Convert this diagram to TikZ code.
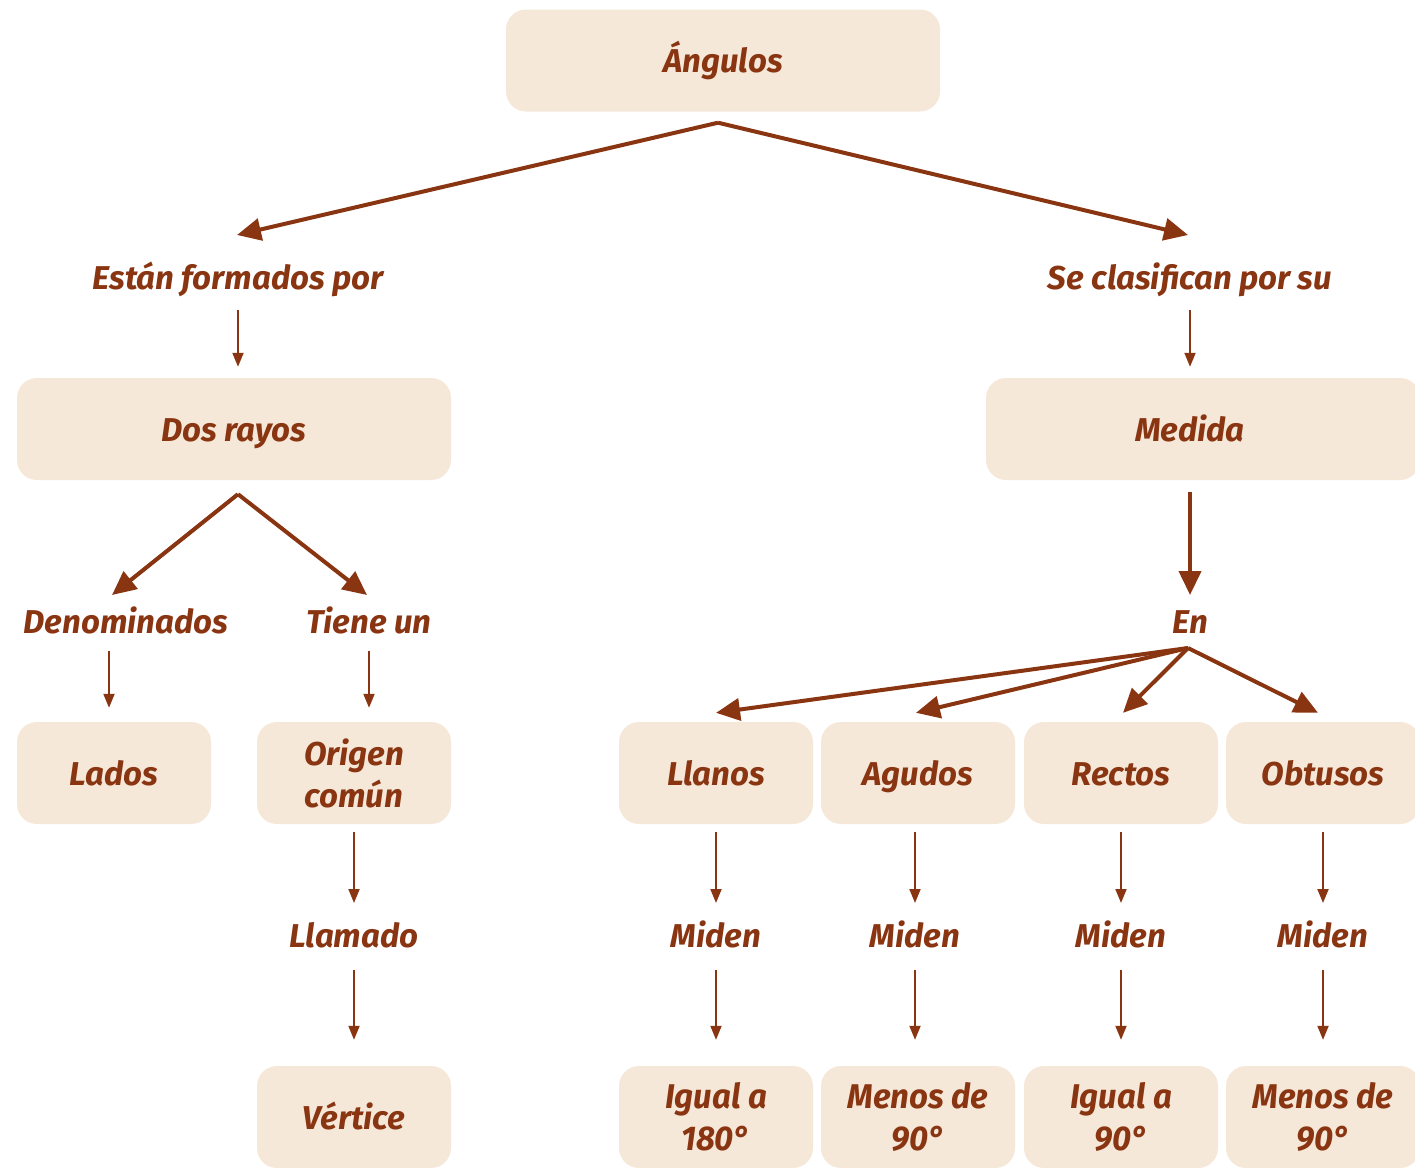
\documentclass[tikz,border=0pt]{standalone}
\usepackage{fontspec}
\setmainfont{Fira Sans}
\usetikzlibrary{arrows.meta,calc}
\definecolor{brn}{HTML}{8A3512}
\definecolor{bx}{HTML}{F5E8D8}
\newcommand\fsz{\fontsize{33}{42}\selectfont\bfseries\itshape}
\newcommand\cnd[1]{\scalebox{1.0}[1.04]{#1}}
\newcommand\st{\vphantom{Ágy}}
\tikzset{
  box/.style={fill=bx, rounded corners=20pt, minimum height=102pt, text=brn, font=\fsz, align=center, inner sep=0pt},
  lbl/.style={text=brn, font=\fsz, inner sep=0pt, align=center},
  bigarr/.style={draw=brn, line width=4pt, -{Triangle[length=24pt,width=22pt]}},
  smallarr/.style={draw=brn, line width=2pt, -{Triangle[length=14pt,width=11pt]}}
}
\begin{document}
\begin{tikzpicture}[x=1pt,y=-1pt]
\useasboundingbox (0,0) rectangle (1415,1167);
\clip (0,0) rectangle (1415,1167);
% boxes
\node[box, minimum width=434pt] (ang) at (723,60.5) {\st Ángulos};
\node[box, minimum width=434pt] (dos) at (234,429) {\st Dos rayos};
\node[box, minimum width=434pt] (med) at (1203,429) {\hspace*{-26pt}\st Medida};
\node[box, minimum width=194pt] (lad) at (114,773) {\st Lados};
\node[box, minimum width=194pt] (ori) at (354,773) {Origen\\común};
\node[box, minimum width=194pt] (lla) at (716,773) {\st Llanos};
\node[box, minimum width=194pt] (agu) at (918,773) {\st Agudos};
\node[box, minimum width=194pt] (rec) at (1121,773) {\st Rectos};
\node[box, minimum width=194pt] (obt) at (1323,773) {\st Obtusos};
\node[box, minimum width=194pt] (ver) at (354,1117) {\st Vértice};
\node[box, minimum width=194pt] (v1) at (716,1117) {\cnd{Igual a}\\\cnd{180°}};
\node[box, minimum width=194pt] (v2) at (918,1117) {\cnd{Menos de}\\\cnd{90°}};
\node[box, minimum width=194pt] (v3) at (1121,1117) {\cnd{Igual a}\\\cnd{90°}};
\node[box, minimum width=194pt] (v4) at (1323,1117) {\cnd{Menos de}\\\cnd{90°}};
% labels
\node[lbl] (est) at (238,277) {\st Están formados por};
\node[lbl] (cla) at (1190,277) {\st Se clasifican por su};
\node[lbl] (den) at (126,621) {\st Denominados};
\node[lbl] (tie) at (369,621) {\st Tiene un};
\node[lbl] (en) at (1190,621) {\st En};
\node[lbl] (llm) at (354,935) {\st Llamado};
\node[lbl] (m1) at (716,935) {\st Miden};
\node[lbl] (m2) at (915,935) {\st Miden};
\node[lbl] (m3) at (1121,935) {\st Miden};
\node[lbl] (m4) at (1323,935) {\st Miden};
% thick arrows
\draw[bigarr] ($(ang.south)+(-5,11)$) -- ($(est.center)+(-1,-42)$);
\draw[bigarr] ($(ang.south)+(-5,11)$) -- ($(cla.center)+(-2,-42)$);
\draw[bigarr] ($(dos.south)+(4,14)$) -- ($(den.center)+(-14,-26)$);
\draw[bigarr] ($(dos.south)+(4,14)$) -- ($(tie.center)+(-2,-26)$);
\draw[bigarr] ($(med.south)+(-13,12)$) -- ($(en.center)+(0,-26)$);
\draw[bigarr] ($(en.center)+(-2,27)$) -- ($(lla.north)+(0,-9)$);
\draw[bigarr] ($(en.center)+(-2,27)$) -- ($(agu.north)+(-2,-9)$);
\draw[bigarr] ($(en.center)+(-2,27)$) -- ($(rec.north)+(2,-9)$);
\draw[bigarr] ($(en.center)+(-2,27)$) -- ($(obt.north)+(-5,-9)$);
% thin arrows
\draw[smallarr] ($(est.center)+(0,33)$) -- ($(dos.north)+(4,-11)$);
\draw[smallarr] ($(cla.center)+(0,33)$) -- ($(med.north)+(-13,-11)$);
\draw[smallarr] ($(den.center)+(-17,30)$) -- ($(lad.north)+(-5,-14)$);
\draw[smallarr] ($(tie.center)+(0,30)$) -- ($(ori.north)+(15,-14)$);
\draw[smallarr] ($(ori.south)+(0,8)$) -- ($(llm.center)+(0,-32)$);
\draw[smallarr] ($(llm.center)+(0,35)$) -- ($(ver.north)+(0,-26)$);
\foreach \b/\m/\v/\dx in {lla/m1/v1/0, agu/m2/v2/-3, rec/m3/v3/0, obt/m4/v4/0}{
  \draw[smallarr] ($(\b.south)+(\dx,8)$) -- ($(\m.center)+(0,-32)$);
  \draw[smallarr] ($(\m.center)+(0,35)$) -- ($(\v.north)+(\dx,-26)$);
}
\end{tikzpicture}
\end{document}
